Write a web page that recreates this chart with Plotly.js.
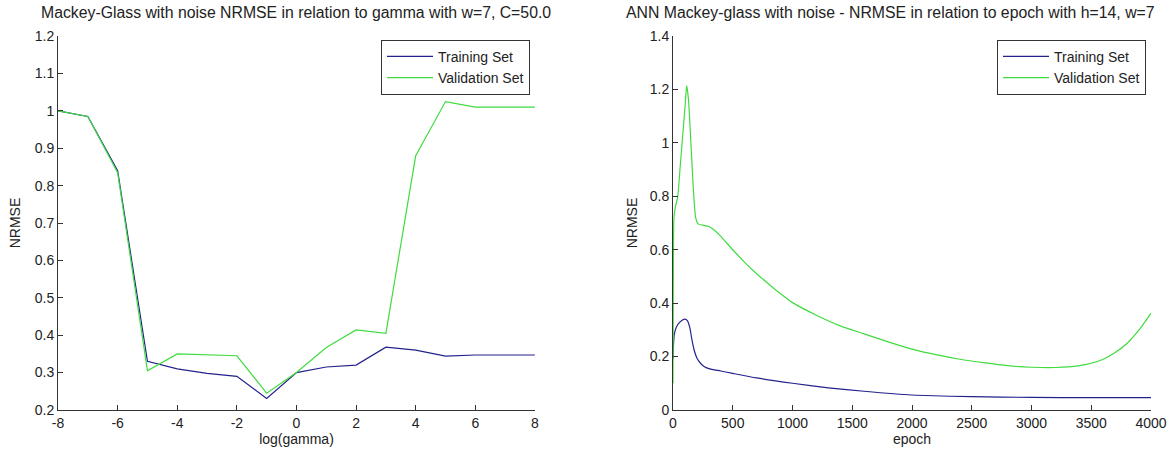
<!DOCTYPE html>
<html>
<head>
<meta charset="utf-8">
<script src="https://cdn.plot.ly/plotly-3.0.1.min.js"></script>
<style>html,body{margin:0;padding:0;background:#fff;}#chart{width:1170px;height:452px;}</style>
</head>
<body>
<div id="chart"></div>
<script>
// Left chart: NRMSE vs log(gamma)
const logGamma = [-8,-7,-6,-5,-4,-3,-2,-1,0,1,2,3,4,5,6,7,8];
const svmTrain = [1.0,0.985,0.84,0.33,0.31,0.298,0.29,0.231,0.30,0.315,0.32,0.368,0.36,0.344,0.347,0.347,0.347];
const svmValid = [1.0,0.985,0.835,0.305,0.35,0.348,0.345,0.245,0.30,0.367,0.414,0.405,0.88,1.025,1.01,1.01,1.01];

// Right chart: NRMSE vs epoch
const epochValid = [0,3,8,20,40,60,80,100,115,130,150,170,190,210,250,300,350,400,500,600,700,800,900,1000,1200,1400,1600,1800,2000,2200,2400,2600,2800,3000,3200,3400,3500,3600,3700,3800,3900,4000];
const annValid = [0.1,0.5,0.72,0.76,0.8,0.91,1.02,1.13,1.215,1.16,1.0,0.83,0.72,0.697,0.692,0.687,0.672,0.65,0.6,0.553,0.51,0.472,0.435,0.402,0.355,0.315,0.285,0.255,0.228,0.207,0.19,0.177,0.166,0.16,0.159,0.166,0.175,0.19,0.215,0.25,0.3,0.363];
const epochTrain = [0,5,10,20,40,60,80,100,120,140,160,180,200,230,260,300,400,500,700,1000,1300,1600,2000,2500,3000,3500,4000];
const annTrain = [0.19,0.25,0.28,0.3,0.32,0.33,0.337,0.34,0.335,0.31,0.26,0.22,0.195,0.175,0.163,0.155,0.146,0.137,0.12,0.1,0.083,0.07,0.056,0.05,0.047,0.046,0.046];

const leftXTicks = [-8,-6,-4,-2,0,2,4,6,8];
const leftXLabels = ['-8','-6','-4','-2','0','2','4','6','8'];
const leftYTicks = [0.2,0.3,0.4,0.5,0.6,0.7,0.8,0.9,1.0,1.1,1.2];
const leftYLabels = ['0.2','0.3','0.4','0.5','0.6','0.7','0.8','0.9','1','1.1','1.2'];
const rightXTicks = [0,500,1000,1500,2000,2500,3000,3500,4000];
const rightXLabels = ['0','500','1000','1500','2000','2500','3000','3500','4000'];
const rightYTicks = [0,0.2,0.4,0.6,0.8,1.0,1.2,1.4];
const rightYLabels = ['0','0.2','0.4','0.6','0.8','1','1.2','1.4'];

const trainColor = '#22228c';
const validColor = '#3fdc3f';
const FONT = 'Liberation Sans, Arial, sans-serif';

const traces = [
  {x: logGamma, y: svmTrain, type:'scatter', mode:'lines', name:'Training Set', line:{color:trainColor,width:1.2}, xaxis:'x', yaxis:'y', legend:'legend'},
  {x: logGamma, y: svmValid, type:'scatter', mode:'lines', name:'Validation Set', line:{color:validColor,width:1.2}, xaxis:'x', yaxis:'y', legend:'legend'},
  {x: epochTrain, y: annTrain, type:'scatter', mode:'lines', name:'Training Set', line:{color:trainColor,width:1.2,shape:'spline',smoothing:0.6}, xaxis:'x2', yaxis:'y2', legend:'legend2'},
  {x: epochValid, y: annValid, type:'scatter', mode:'lines', name:'Validation Set', line:{color:validColor,width:1.2,shape:'spline',smoothing:0.6}, xaxis:'x2', yaxis:'y2', legend:'legend2'}
];

const axisCommon = {
  showgrid:false, zeroline:false, showline:true, linecolor:'#333', linewidth:1,
  ticks:'inside', ticklen:5, tickcolor:'#333', mirror:false,
  tickfont:{family:FONT, size:14, color:'#222'},
  tickmode:'array'
};
const axisTitleFont = {family:FONT, size:14, color:'#222'};
const titleFont = {family:FONT, size:15.8, color:'#222'};

const legendCommon = {xanchor:'right', yanchor:'top', bordercolor:'#333', borderwidth:1, bgcolor:'#fff', font:{family:FONT, size:14, color:'#222'}, tracegroupgap:0, itemwidth:46};

const layout = {
  width:1170, height:452,
  margin:{l:0,r:0,t:0,b:0},
  paper_bgcolor:'#fff', plot_bgcolor:'#fff',
  showlegend:true,
  xaxis: Object.assign({}, axisCommon, {domain:[0.0496,0.4572], range:[-8,8], tickvals:leftXTicks, ticktext:leftXLabels, anchor:'y', title:{text:'log(gamma)', font:axisTitleFont, standoff:2}}),
  yaxis: Object.assign({}, axisCommon, {domain:[0.093,0.920], range:[0.2,1.2], tickvals:leftYTicks, ticktext:leftYLabels, anchor:'x', title:{text:'NRMSE', font:axisTitleFont, standoff:10}}),
  xaxis2: Object.assign({}, axisCommon, {domain:[0.5752,0.9838], range:[0,4000], tickvals:rightXTicks, ticktext:rightXLabels, anchor:'y2', title:{text:'epoch', font:axisTitleFont, standoff:2}}),
  yaxis2: Object.assign({}, axisCommon, {domain:[0.093,0.920], range:[0,1.4], tickvals:rightYTicks, ticktext:rightYLabels, anchor:'x2', title:{text:'NRMSE', font:axisTitleFont, standoff:8}}),
  legend: Object.assign({}, legendCommon, {x:0.4530, y:0.912}),
  legend2: Object.assign({}, legendCommon, {x:0.9795, y:0.912}),
  annotations: [
    {text:'Mackey-Glass with noise NRMSE in relation to gamma with w=7, C=50.0', xref:'paper', yref:'paper', x:0.2534, y:0.972, xanchor:'center', yanchor:'middle', showarrow:false, font:titleFont},
    {text:'ANN Mackey-glass with noise - NRMSE in relation to epoch with h=14, w=7', xref:'paper', yref:'paper', x:0.7607, y:0.972, xanchor:'center', yanchor:'middle', showarrow:false, font:titleFont}
  ]
};

Plotly.newPlot('chart', traces, layout, {displayModeBar:false, staticPlot:true});
</script>
</body>
</html>
